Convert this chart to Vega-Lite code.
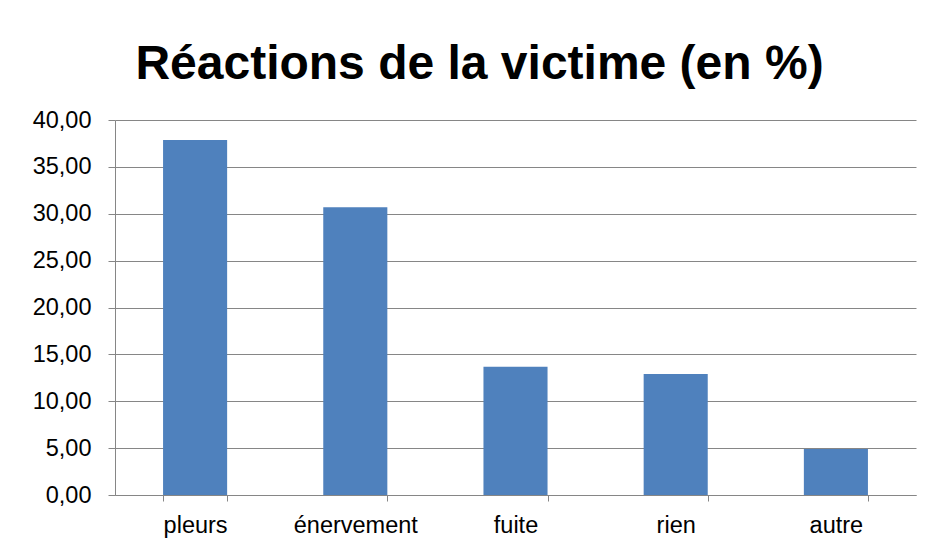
{
  "$schema": "https://vega.github.io/schema/vega-lite/v6.json",
  "autosize": {"type": "none"},
  "width": 801,
  "height": 375,
  "padding": {"left": 115, "top": 120, "right": 17, "bottom": 56},
  "background": "white",
  "title": {
    "text": "Réactions de la victime (en %)",
    "font": "Liberation Sans",
    "fontSize": 48,
    "fontWeight": "bold",
    "color": "black",
    "anchor": "middle",
    "frame": "group",
    "dx": -36,
    "offset": 19
  },
  "data": {
    "values": [
      {"reaction": "pleurs", "pct": 37.87},
      {"reaction": "énervement", "pct": 30.69},
      {"reaction": "fuite", "pct": 13.69},
      {"reaction": "rien", "pct": 12.91},
      {"reaction": "autre", "pct": 4.91}
    ]
  },
  "mark": {"type": "bar", "color": "#4F81BD"},
  "encoding": {
    "x": {
      "field": "reaction",
      "type": "nominal",
      "sort": null,
      "scale": {"paddingInner": 0.6, "paddingOuter": 0.3},
      "axis": {
        "title": null,
        "labelAngle": 0,
        "tickBand": "extent",
        "ticks": true,
        "tickSize": 6,
        "tickWidth": 1,
        "tickColor": "#868686",
        "domainColor": "#868686",
        "labelFont": "Liberation Sans",
        "labelFontSize": 23.5,
        "labelColor": "black",
        "labelPadding": 12,
        "grid": false
      }
    },
    "y": {
      "field": "pct",
      "type": "quantitative",
      "scale": {"domain": [0, 40], "nice": false},
      "axis": {
        "title": null,
        "values": [0, 5, 10, 15, 20, 25, 30, 35, 40],
        "labelExpr": "replace(format(datum.value, '.2f'), '.', ',')",
        "tickSize": 7,
        "tickColor": "#868686",
        "domainColor": "#868686",
        "gridColor": "#868686",
        "grid": true,
        "labelFont": "Liberation Sans",
        "labelFontSize": 23.5,
        "labelColor": "black",
        "labelPadding": 17
      }
    }
  },
  "config": {"view": {"stroke": null}}
}
